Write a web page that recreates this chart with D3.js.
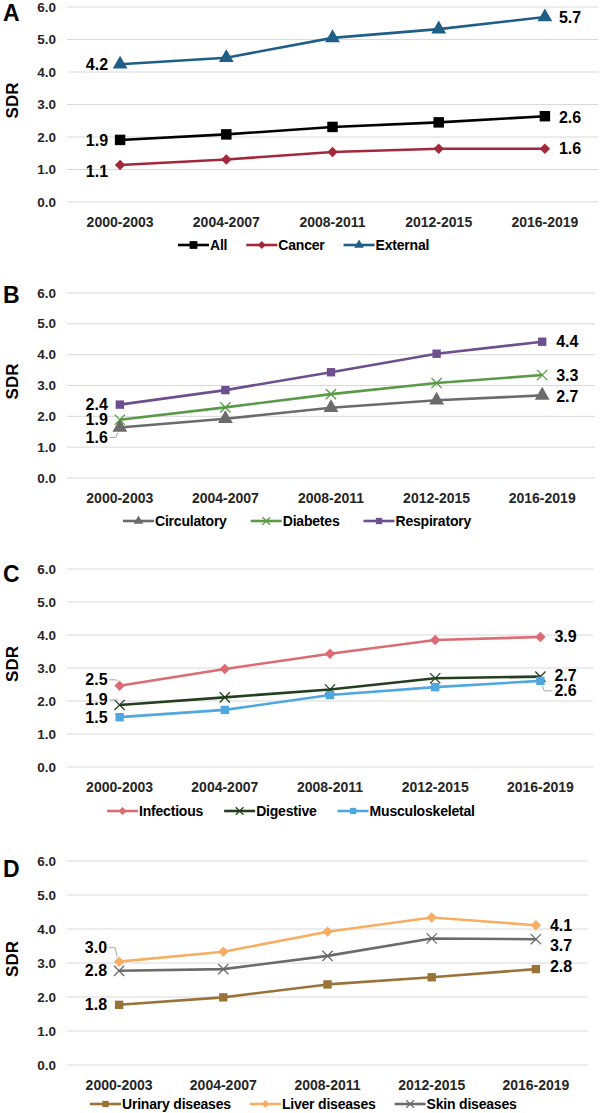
<!DOCTYPE html>
<html>
<head>
<meta charset="utf-8">
<script src="https://cdn.jsdelivr.net/npm/d3@7"></script>
<style>
  body { margin: 0; background: #fff; }
  text { font-family: "Liberation Sans", Arial, sans-serif; }
</style>
</head>
<body>
<svg id="chart" width="602" height="1113" viewBox="0 0 602 1113"></svg>
<script>
const periods = ["2000-2003", "2004-2007", "2008-2011", "2012-2015", "2016-2019"];
const yTicks = [0, 1, 2, 3, 4, 5, 6];

// panel A
const allSDR = [1.91, 2.08, 2.31, 2.45, 2.64];
const cancerSDR = [1.14, 1.31, 1.54, 1.64, 1.64];
const externalSDR = [4.24, 4.44, 5.05, 5.32, 5.69];
// panel B
const circulatorySDR = [1.64, 1.92, 2.28, 2.52, 2.68];
const diabetesSDR = [1.89, 2.29, 2.72, 3.08, 3.34];
const respiratorySDR = [2.38, 2.85, 3.43, 4.03, 4.42];
// panel C
const infectiousSDR = [2.46, 2.97, 3.43, 3.85, 3.94];
const digestiveSDR = [1.88, 2.11, 2.35, 2.69, 2.74];
const musculoSDR = [1.51, 1.73, 2.18, 2.42, 2.61];
// panel D
const urinarySDR = [1.77, 1.99, 2.37, 2.58, 2.82];
const liverSDR = [3.04, 3.33, 3.92, 4.34, 4.11];
const skinSDR = [2.77, 2.82, 3.21, 3.72, 3.70];

const svg = d3.select("#chart");

// layout of each panel (pixels)
const panels = [
  { letter: "A", top: 7, bottom: 202, right: 598, tickY: 227, legendY: 245, letterY: 21, legendX: 178, legendGap: 19,
    series: [
      { name: "All", values: allSDR, color: "#000000", shape: "square", big: true, dl: [1, 1] },
      { name: "Cancer", values: cancerSDR, color: "#a3283a", shape: "diamond", dl: [7, 0] },
      { name: "External", values: externalSDR, color: "#1f5e87", shape: "triangle", dl: [0, 0] }
    ] },
  { letter: "B", top: 293, bottom: 478, right: 595, tickY: 503, legendY: 521, letterY: 303, legendX: 123, legendGap: 24,
    series: [
      { name: "Circulatory", values: circulatorySDR, color: "#6b6b6b", shape: "triangle", dl: [10, 1], lead: [true, false] },
      { name: "Diabetes", values: diabetesSDR, color: "#5a9a47", shape: "x", dl: [0, 0] },
      { name: "Respiratory", values: respiratorySDR, color: "#6c4f8c", shape: "square", dl: [0, 0] }
    ] },
  { letter: "C", top: 569, bottom: 767, right: 593, tickY: 792, legendY: 811, letterY: 582, legendX: 107, legendGap: 21,
    series: [
      { name: "Infectious", values: infectiousSDR, color: "#dd6b74", shape: "diamond", dl: [-6, 0], lead: [true, false] },
      { name: "Digestive", values: digestiveSDR, color: "#243f1e", shape: "x", dl: [-5, -1], lead: [true, false] },
      { name: "Musculoskeletal", values: musculoSDR, color: "#4ea7de", shape: "square", dl: [0, 10], lead: [false, true] }
    ] },
  { letter: "D", top: 861, bottom: 1065, right: 588, tickY: 1090, legendY: 1104, letterY: 877, legendX: 90, legendGap: 19,
    series: [
      { name: "Urinary diseases", values: urinarySDR, color: "#9a7338", shape: "square", dl: [0, -3] },
      { name: "Liver diseases", values: liverSDR, color: "#f7ae62", shape: "diamond", dl: [-14, 0], lead: [true, false] },
      { name: "Skin diseases", values: skinSDR, color: "#6b6b6b", shape: "x", dl: [0, 6] }
    ] }
];

const left = 67;

function symbolFor(shape, size) {
  if (shape === "square") return d3.symbol(d3.symbolSquare, size)();
  if (shape === "diamond") return d3.symbol(d3.symbolDiamond2, size)();
  if (shape === "triangle") return d3.symbol(d3.symbolTriangle, size)();
  return d3.symbol(d3.symbolX, size)();
}

function drawMarker(g, shape, color, x, y, size) {
  const p = g.append("path")
    .attr("d", symbolFor(shape, size))
    .attr("transform", `translate(${x},${y})`);
  if (shape === "x") {
    p.attr("fill", "none").attr("stroke", color).attr("stroke-width", 1.3);
  } else {
    p.attr("fill", color);
  }
}

panels.forEach((pn) => {
  const g = svg.append("g");
  const x = d3.scaleBand().domain(periods).range([left, pn.right]);
  const y = d3.scaleLinear().domain([0, 6]).range([pn.bottom, pn.top]);
  const cx = (d) => x(d) + x.bandwidth() / 2;

  // grid
  g.append("g").selectAll("line").data(yTicks).join("line")
    .attr("x1", left).attr("x2", pn.right)
    .attr("y1", (d) => y(d)).attr("y2", (d) => y(d))
    .attr("stroke", "#d9d9d9").attr("stroke-width", 1);

  // y tick labels
  g.append("g").selectAll("text").data(yTicks).join("text")
    .attr("x", 56).attr("y", (d) => y(d))
    .attr("text-anchor", "end").attr("dominant-baseline", "central")
    .attr("font-size", 13.5).attr("font-weight", "bold").attr("fill", "#262626")
    .text((d) => d.toFixed(1));

  // x tick labels
  g.append("g").selectAll("text").data(periods).join("text")
    .attr("x", cx).attr("y", pn.tickY)
    .attr("text-anchor", "middle")
    .attr("font-size", 14).attr("font-weight", "bold").attr("fill", "#262626")
    .text((d) => d);

  // axis title and panel letter
  const mid = (pn.top + pn.bottom) / 2 - 4;
  g.append("text")
    .attr("transform", `translate(18,${mid}) rotate(-90)`)
    .attr("text-anchor", "middle")
    .attr("font-size", 17).attr("font-weight", "bold").attr("fill", "#000")
    .text("SDR");
  g.append("text")
    .attr("x", 3).attr("y", pn.letterY)
    .attr("font-size", 23).attr("font-weight", "bold").attr("fill", "#000")
    .text(pn.letter);

  const line = d3.line().x((d, i) => cx(periods[i])).y((d) => y(d));

  pn.series.forEach((s) => {
    g.append("path")
      .attr("d", line(s.values))
      .attr("fill", "none").attr("stroke", s.color).attr("stroke-width", 2.6)
      .attr("stroke-linejoin", "round");
    const msz = s.big ? 110 : (s.shape === "triangle" ? 95 : 70);
    s.values.forEach((v, i) => drawMarker(g, s.shape, s.color, cx(periods[i]), y(v), msz));

    // end labels
    const n = s.values.length - 1;
    const ends = [
      { i: 0, anchor: "end", dx: -12 },
      { i: n, anchor: "start", dx: 14 }
    ];
    ends.forEach((e, k) => {
      const px = cx(periods[e.i]);
      const py = y(s.values[e.i]);
      const ly = py + s.dl[k];
      g.append("text")
        .attr("x", px + e.dx).attr("y", ly)
        .attr("text-anchor", e.anchor).attr("dominant-baseline", "central")
        .attr("font-size", 16).attr("font-weight", "bold").attr("fill", "#000")
        .text(s.values[e.i].toFixed(1));
      if (s.lead && s.lead[k]) {
        const sx = k === 0 ? px - 10 : px + 12;
        const bx = k === 0 ? px - 4 : px + 4;
        const ty = ly > py ? py + 5 : py - 5;
        g.append("path")
          .attr("d", `M${sx},${ly}L${bx},${ly}L${k === 0 ? px - 2 : px + 2},${ty}`)
          .attr("fill", "none").attr("stroke", "#a6a6a6").attr("stroke-width", 1);
      }
    });
  });

  // legend
  const lg = g.append("g");
  let lx = pn.legendX;
  pn.series.forEach((s) => {
    lg.append("line")
      .attr("x1", lx).attr("x2", lx + 31)
      .attr("y1", pn.legendY).attr("y2", pn.legendY)
      .attr("stroke", s.color).attr("stroke-width", 2.6);
    drawMarker(lg, s.shape, s.color, lx + 15.5, pn.legendY, s.big ? 60 : 40);
    const t = lg.append("text")
      .attr("x", lx + 32).attr("y", pn.legendY)
      .attr("dominant-baseline", "central")
      .attr("font-size", 14).attr("font-weight", "bold").attr("fill", "#000")
      .attr("letter-spacing", -0.2)
      .text(s.name);
    lx += 32 + t.node().getComputedTextLength() + pn.legendGap;
  });
});
</script>
</body>
</html>
